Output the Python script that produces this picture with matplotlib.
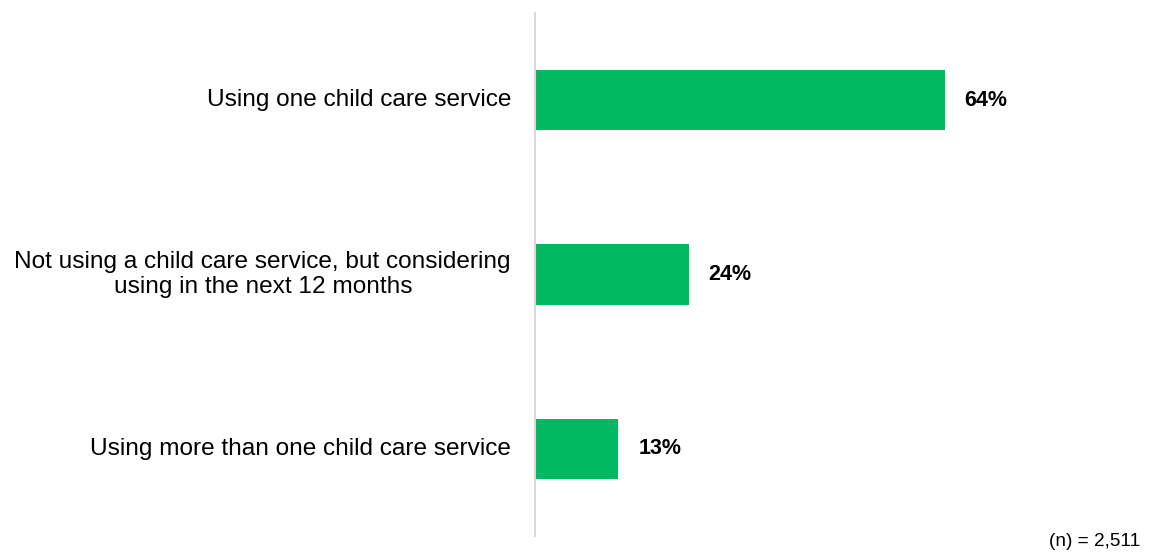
import matplotlib
matplotlib.use("Agg")
import matplotlib.pyplot as plt

categories = [
    "Using one child care service",
    "Not using a child care service, but considering\nusing in the next 12 months",
    "Using more than one child care service",
]
values = [64, 24, 13]
value_labels = ["64%", "24%", "13%"]
note = "(n) = 2,511"

plt.rcParams['font.family'] = ['Liberation Sans', 'DejaVu Sans']

W, H = 1155, 554
fig = plt.figure(figsize=(W / 100, H / 100), dpi=100)
left_px, right_px = 535, 1155
top_px, bot_px = 13, 536
ax = fig.add_axes([left_px / W, (H - bot_px) / H, (right_px - left_px) / W, (bot_px - top_px) / H])

px_per_unit = 6.4
ax.set_xlim(0, (right_px - left_px) / px_per_unit)
ax.set_ylim(len(categories) - 0.5, -0.5)

ypos = list(range(len(categories)))
ax.barh(ypos, values, height=0.345, color="#00B960", zorder=2)

for y, v, lab in zip(ypos, values, value_labels):
    ax.annotate(lab, xy=(v, y), xytext=(20, 0), textcoords="offset pixels",
                ha="left", va="center", fontsize=15.5, fontweight="bold", color="#000000")

for y, cat in zip(ypos, categories):
    ax.annotate(cat, xy=(0, y), xytext=(-24, 0), textcoords="offset pixels",
                ha="right", va="center", multialignment="center",
                fontsize=17.6, color="#000000", linespacing=1.12)

for s in ["top", "right", "bottom"]:
    ax.spines[s].set_visible(False)
ax.spines["left"].set_color("#D9D9D9")
ax.spines["left"].set_linewidth(1.5)
ax.set_xticks([])
ax.set_yticks([])

fig.text(1140 / W, 1 - 542 / H, note, ha="right", va="center", fontsize=13.7, color="#000000")

fig.savefig("out.png", dpi=100, facecolor="white")
